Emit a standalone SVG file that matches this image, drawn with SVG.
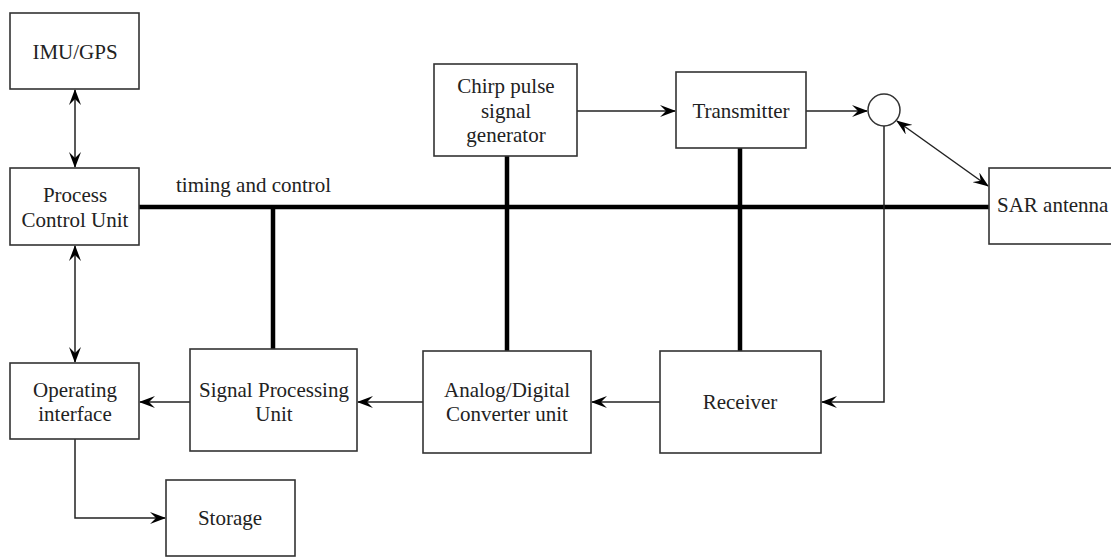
<svg xmlns="http://www.w3.org/2000/svg" width="1111" height="558" viewBox="0 0 1111 558">
<style>
.box{fill:#fff;stroke:#333;stroke-width:1.6}
.t{font-family:"Liberation Serif","Times New Roman",serif;font-size:21px;fill:#222;text-anchor:middle}
.thin{fill:none;stroke:#222;stroke-width:1.5}
.thick{fill:none;stroke:#000;stroke-width:4.5}
</style>
<defs>
<marker id="ah" viewBox="0 0 16 12" refX="15" refY="6" markerWidth="16" markerHeight="12" markerUnits="userSpaceOnUse" orient="auto-start-reverse">
<path d="M0,0 L16,6 L0,12 L6,6 z" fill="#000"/>
</marker>
</defs>
<rect width="1111" height="558" fill="#fff"/>
<g id="connectors">
<line class="thick" x1="139" y1="207" x2="989" y2="207"/>
<line class="thick" x1="273" y1="207" x2="273" y2="349"/>
<line class="thick" x1="507" y1="156" x2="507" y2="351"/>
<line class="thick" x1="740" y1="148" x2="740" y2="351"/>
<line class="thin" x1="75" y1="90" x2="75" y2="167" marker-start="url(#ah)" marker-end="url(#ah)"/>
<line class="thin" x1="75" y1="246" x2="75" y2="362" marker-start="url(#ah)" marker-end="url(#ah)"/>
<polyline class="thin" points="75,439 75,518 165,518" marker-end="url(#ah)"/>
<line class="thin" x1="190" y1="402" x2="140" y2="402" marker-end="url(#ah)"/>
<line class="thin" x1="423" y1="402" x2="358" y2="402" marker-end="url(#ah)"/>
<line class="thin" x1="660" y1="402" x2="592" y2="402" marker-end="url(#ah)"/>
<polyline class="thin" points="884,126 884,402 822,402" marker-end="url(#ah)"/>
<line class="thin" x1="577" y1="111" x2="675" y2="111" marker-end="url(#ah)"/>
<line class="thin" x1="806" y1="111" x2="867" y2="111" marker-end="url(#ah)"/>
<line class="thin" x1="897" y1="121" x2="988" y2="186" marker-start="url(#ah)" marker-end="url(#ah)"/>
</g>
<g id="imu"><rect class="box" x="10" y="13" width="129" height="76"/><text class="t" x="75" y="59">IMU/GPS</text></g>
<g id="pcu"><rect class="box" x="10" y="168" width="129" height="77"/><text class="t" x="75" y="202">Process</text><text class="t" x="75" y="227">Control Unit</text></g>
<g id="oi"><rect class="box" x="10" y="363" width="129" height="76"/><text class="t" x="75" y="397">Operating</text><text class="t" x="75" y="421">interface</text></g>
<g id="spu"><rect class="box" x="190" y="349" width="167" height="102"/><text class="t" x="274" y="397">Signal Processing</text><text class="t" x="274" y="421">Unit</text></g>
<g id="storage"><rect class="box" x="166" y="480" width="129" height="76"/><text class="t" x="230" y="525">Storage</text></g>
<g id="adc"><rect class="box" x="423" y="351" width="168" height="102"/><text class="t" x="507" y="397">Analog/Digital</text><text class="t" x="507" y="421">Converter unit</text></g>
<g id="receiver"><rect class="box" x="660" y="351" width="161" height="102"/><text class="t" x="740" y="409">Receiver</text></g>
<g id="chirp"><rect class="box" x="434" y="64" width="143" height="92"/><text class="t" x="506" y="93">Chirp pulse</text><text class="t" x="506" y="118">signal</text><text class="t" x="506" y="142">generator</text></g>
<g id="transmitter"><rect class="box" x="676" y="72" width="130" height="76"/><text class="t" x="741" y="118">Transmitter</text></g>
<g id="circulator"><circle cx="884" cy="110" r="16" fill="#fff" stroke="#333" stroke-width="1.5"/></g>
<g id="sar"><rect class="box" x="989" y="168" width="130" height="76"/><text class="t" x="997" y="212" style="text-anchor:start">SAR antenna</text></g>
<text class="t" x="176" y="192" style="text-anchor:start">timing and control</text>
</svg>
